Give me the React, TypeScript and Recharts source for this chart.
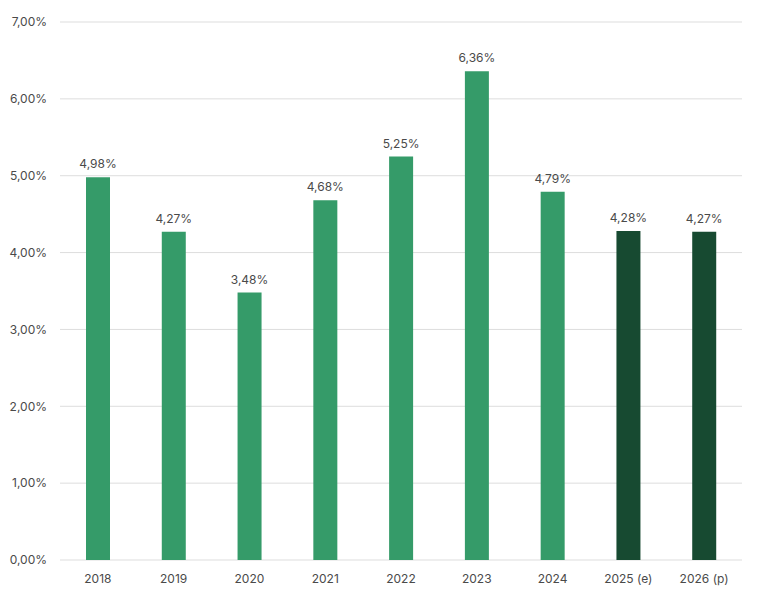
import { BarChart, Bar, XAxis, YAxis, CartesianGrid, LabelList, Cell } from "recharts";

const years = ["2018", "2019", "2020", "2021", "2022", "2023", "2024", "2025 (e)", "2026 (p)"];
const rates = [4.98, 4.27, 3.48, 4.68, 5.25, 6.36, 4.79, 4.28, 4.27];
const barColors = ["#359b69", "#359b69", "#359b69", "#359b69", "#359b69", "#359b69", "#359b69", "#174a31", "#174a31"];
const yTicks = [0, 1, 2, 3, 4, 5, 6, 7];

const data = years.map((year, i) => ({ year, rate: rates[i] }));

const pct = (v: number) => v.toFixed(2).replace(".", ",") + "%";

export default function App() {
  return (
    <div style={{ position: "absolute", left: 0, top: 0, fontFamily: "Inter, 'Open Sans', sans-serif" }}>
      <BarChart width={759} height={609} data={data} margin={{ top: 22, right: 17, left: 0, bottom: 0 }}>
        <CartesianGrid vertical={false} stroke="#dddddd" />
        <XAxis
          dataKey="year"
          axisLine={false}
          tickLine={false}
          tickSize={0}
          tickMargin={14}
          height={49}
          tick={{ fontSize: 12, fill: "#4a4a4a" }}
        />
        <YAxis
          domain={[0, 7]}
          ticks={yTicks}
          tickFormatter={pct}
          axisLine={false}
          tickLine={false}
          tickSize={0}
          tickMargin={13}
          width={60}
          tick={{ fontSize: 12, fill: "#4a4a4a" }}
        />
        <Bar dataKey="rate" barSize={24} isAnimationActive={false}>
          {data.map((d, i) => (
            <Cell key={d.year} fill={barColors[i]} />
          ))}
          <LabelList dataKey="rate" position="top" offset={9} formatter={(v: any) => pct(Number(v))} style={{ fontSize: 12, fill: "#4a4a4a" }} />
        </Bar>
      </BarChart>
    </div>
  );
}
